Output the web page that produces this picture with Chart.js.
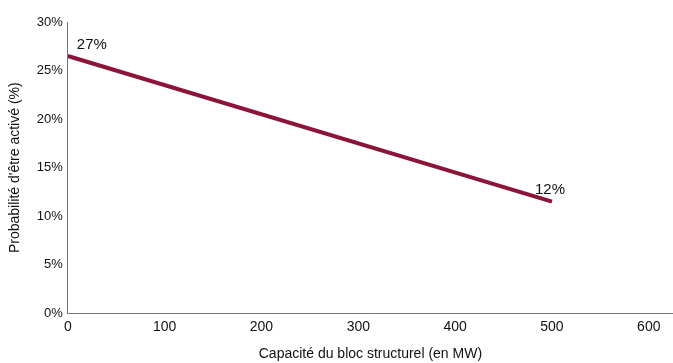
<!DOCTYPE html>
<html>
<head>
<meta charset="utf-8">
<script src="https://cdn.jsdelivr.net/npm/chart.js@4/dist/chart.umd.min.js"></script>
<style>
  html, body { margin: 0; padding: 0; background: #fff; }
  #wrap { width: 673px; height: 363px; }
</style>
</head>
<body>
<div id="wrap"><canvas id="c" width="673" height="363"></canvas></div>
<script>
// Capacity of the structural block (MW) and probability of being activated (%)
const capacityMW = [0, 500];
const probabilityPct = [26.5, 11.5];
const xTicks = [0, 100, 200, 300, 400, 500, 600];
const yTicks = [0, 5, 10, 15, 20, 25, 30];

const FONT = '"Liberation Sans", Arial, sans-serif';
const LINE_COLOR = '#8b1538';

// Writes the rounded value beside each end of the line
const endLabels = {
  id: 'endLabels',
  afterDatasetsDraw(chart) {
    const { ctx, scales } = chart;
    ctx.save();
    ctx.font = '15px ' + FONT;
    ctx.fillStyle = '#111';
    ctx.textBaseline = 'middle';
    capacityMW.forEach((x, i) => {
      const px = scales.x.getPixelForValue(x);
      const py = scales.y.getPixelForValue(probabilityPct[i]);
      const txt = Math.round(probabilityPct[i]) + '%';
      if (i === 0) {
        ctx.textAlign = 'left';
        ctx.fillText(txt, px + 9, py - 11);
      } else {
        ctx.textAlign = 'center';
        ctx.fillText(txt, px - 2, py - 12);
      }
    });
    ctx.restore();
  }
};

new Chart(document.getElementById('c'), {
  type: 'line',
  data: {
    datasets: [{
      data: capacityMW.map((x, i) => ({ x, y: probabilityPct[i] })),
      borderColor: LINE_COLOR,
      borderWidth: 4,
      pointRadius: 0,
      borderCapStyle: 'butt',
      tension: 0
    }]
  },
  options: {
    responsive: false,
    animation: false,
    layout: { padding: { top: 22, right: 0, bottom: 0, left: 7 } },
    plugins: { legend: { display: false }, tooltip: { enabled: false } },
    scales: {
      x: {
        type: 'linear',
        min: 0,
        max: 625,
        afterBuildTicks(scale) { scale.ticks = xTicks.map(v => ({ value: v })); },
        grid: { display: false, drawTicks: false },
        border: { display: true, color: '#777', width: 1, dash: [1, 2] },
        ticks: { color: '#111', padding: 5, font: { family: FONT, size: 14 }, maxRotation: 0 },
        title: {
          display: true,
          text: 'Capacité du bloc structurel (en MW)',
          color: '#111',
          font: { family: FONT, size: 14 },
          padding: { top: 6, bottom: 0 }
        }
      },
      y: {
        min: 0,
        max: 30,
        afterBuildTicks(scale) { scale.ticks = yTicks.map(v => ({ value: v })); },
        grid: { display: false, drawTicks: false },
        border: { display: true, color: '#777', width: 1, dash: [1, 2] },
        ticks: { color: '#111', padding: 5, font: { family: FONT, size: 13 }, callback: v => v + '%' },
        title: {
          display: true,
          text: "Probabilité d'être activé (%)",
          color: '#111',
          font: { family: FONT, size: 14 },
          padding: { top: 0, bottom: 8 }
        }
      }
    }
  },
  plugins: [endLabels]
});
</script>
</body>
</html>
